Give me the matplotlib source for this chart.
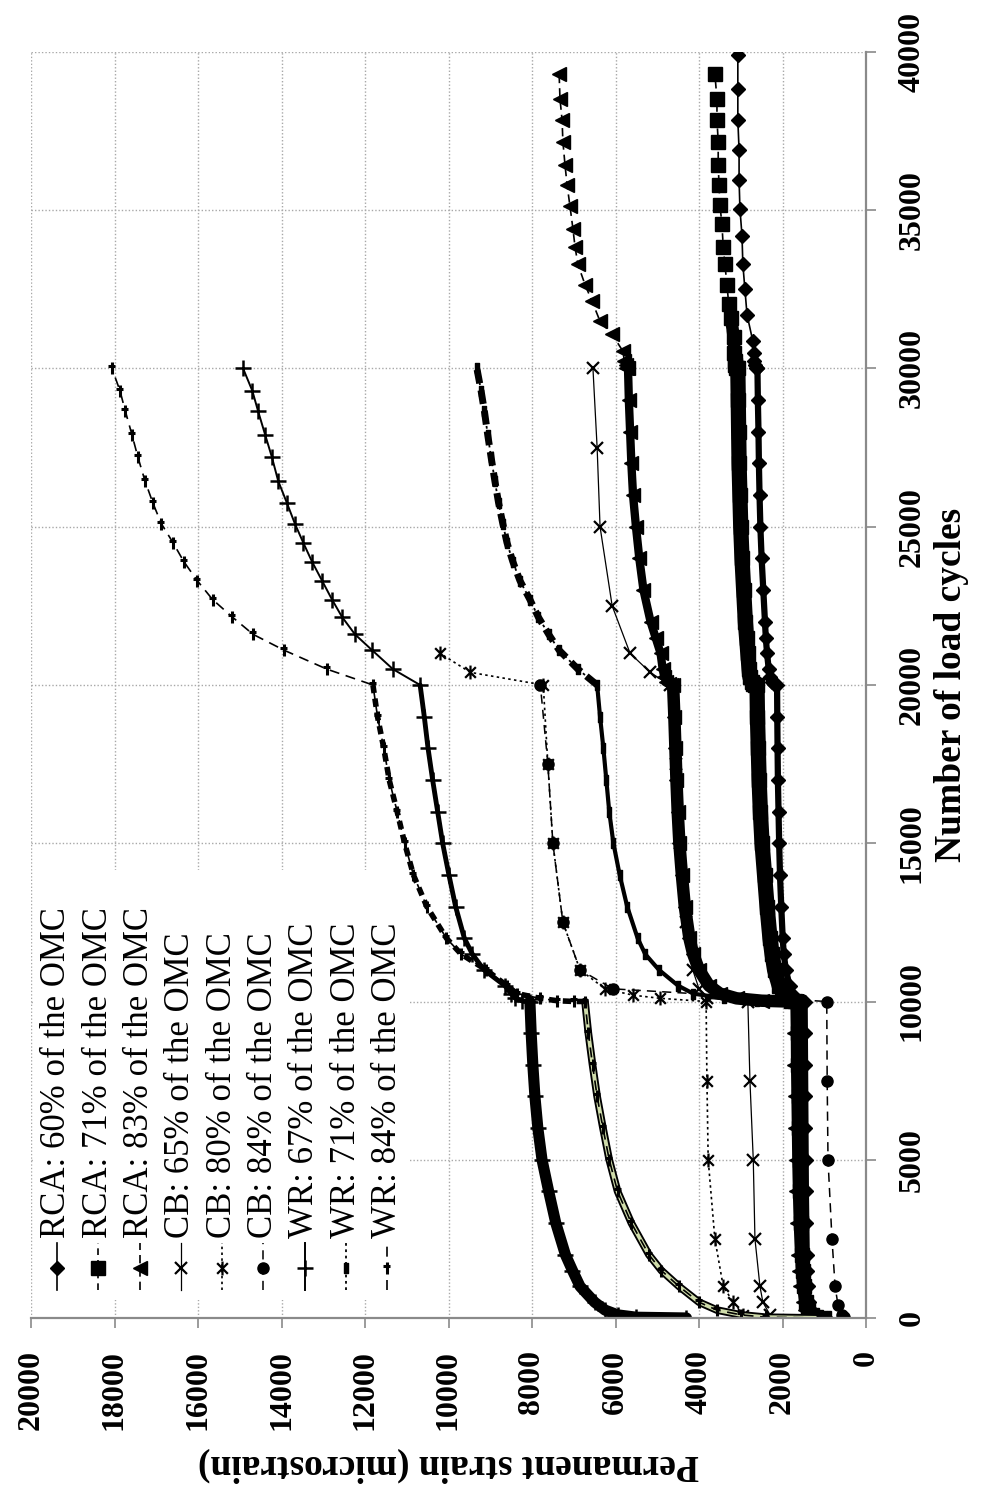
import matplotlib
matplotlib.use("Agg")
import matplotlib.pyplot as plt
from matplotlib.path import Path
from matplotlib.patches import Rectangle

plt.rcParams['font.family'] = ['Liberation Serif', 'DejaVu Serif']

# load-cycle grids for the stages (each stage is 10000 cycles)
STAGE1 = [1, 25, 100, 250, 500, 1000, 1500, 2000, 3000, 4000, 5000, 6000, 7000, 8000, 9000, 10000]
STAGE2 = [10001, 10025, 10100, 10250, 10500, 11000, 11500, 12000, 13000, 14000, 15000, 16000, 17000, 18000, 19000, 20000]
STAGE3 = [20001, 20025, 20100, 20250, 20500, 21000, 21500, 22000, 23000, 24000, 25000, 26000, 27000, 28000, 29000, 30000]
WR_STAGE3 = [20500, 21100, 21600, 22150, 22700, 23300, 23900, 24500, 25100, 25750, 26450, 27200, 27900, 28650, 29300, 30000]
RCA60_S4 = [30001, 30025, 30100, 30250, 30500, 30860, 31700, 32500, 33300, 34200, 35050, 35970, 36900, 37860, 38840, 39910]
RCA71_S4 = [30001, 30025, 30100, 30250, 30500, 31000, 31580, 32050, 32650, 33290, 33850, 34550, 35180, 35810, 36440,
            37170, 37860, 38520, 39310]
RCA83_S4 = [30001, 30025, 30100, 30250, 30540, 31080, 31490, 32120, 32650, 33290, 33850, 34420, 35120, 35810, 36440,
            37170, 37860, 38520, 39310]
CB_S1 = [100, 500, 1000, 2500, 5000, 7500, 10000]

# permanent strain (microstrain)
rca60_cyc = STAGE1 + STAGE2 + STAGE3 + RCA60_S4
rca60 = ([950, 1150, 1250, 1320, 1360, 1390, 1410, 1420, 1430, 1440, 1445, 1450, 1455, 1460, 1465, 1470]
         + [1500, 1600, 1700, 1770, 1830, 1920, 1970, 1995, 2030, 2060, 2080, 2095, 2110, 2118, 2125, 2130]
         + [2160, 2210, 2260, 2300, 2330, 2370, 2400, 2420, 2460, 2500, 2530, 2550, 2565, 2575, 2590, 2600]
         + [2620, 2640, 2660, 2680, 2690, 2710, 2850, 2900, 2950, 2970, 3020, 3040, 3040, 3070, 3070, 3070])

rca71_cyc = STAGE1 + STAGE2 + STAGE3 + RCA71_S4
rca71 = ([1000, 1200, 1300, 1380, 1430, 1480, 1510, 1530, 1560, 1580, 1590, 1600, 1610, 1620, 1625, 1630]
         + [1700, 1800, 1900, 1990, 2080, 2190, 2250, 2300, 2370, 2430, 2490, 2530, 2560, 2580, 2600, 2610]
         + [2650, 2700, 2740, 2780, 2800, 2830, 2860, 2890, 2930, 2970, 3000, 3020, 3040, 3050, 3060, 3070]
         + [3090, 3110, 3130, 3140, 3150, 3170, 3230, 3290, 3330, 3380, 3420, 3450, 3500, 3520, 3540, 3540,
            3570, 3570, 3620])

rca83_cyc = STAGE1 + STAGE2 + STAGE3 + RCA83_S4
rca83 = ([1100, 1300, 1400, 1470, 1520, 1570, 1600, 1620, 1650, 1670, 1685, 1695, 1705, 1715, 1720, 1730]
         + [1900, 2500, 3100, 3500, 3760, 4000, 4140, 4230, 4340, 4410, 4470, 4510, 4540, 4565, 4590, 4620]
         + [4660, 4720, 4780, 4830, 4870, 4920, 5040, 5160, 5330, 5430, 5510, 5580, 5620, 5650, 5680, 5700]
         + [5720, 5740, 5760, 5790, 5820, 6080, 6370, 6560, 6730, 6900, 6970, 7020, 7090, 7160, 7210, 7260,
            7280, 7330, 7350])

cb65_cyc = CB_S1 + [10100, 10400, 11000, 12500, 15000, 17500, 20000] + [20400, 21000, 22500, 25000, 27500, 30000]
cb65 = [2300, 2470, 2540, 2660, 2700, 2780, 2830] + [3800, 4000, 4150, 4300, 4450, 4550, 4700] \
       + [5170, 5650, 6080, 6370, 6440, 6540]

cb80_cyc = CB_S1 + [10100, 10200, 10400, 11000, 12500, 15000, 17500, 20000] + [20400, 21000]
cb80 = [2950, 3180, 3420, 3620, 3780, 3810, 3830] + [4930, 5580, 6250, 6850, 7260, 7500, 7620, 7730] + [9480, 10200]

cb84_cyc = [25, 100, 400, 1000, 2500, 5000, 7500, 10000] + [10400, 11000, 12500, 15000, 17500, 20000]
cb84 = [520, 575, 670, 740, 815, 910, 930, 940] + [6060, 6850, 7260, 7500, 7620, 7800]

wr67_cyc = STAGE1 + STAGE2 + WR_STAGE3
wr67 = ([4300, 5500, 5950, 6250, 6500, 6850, 7030, 7200, 7430, 7600, 7760, 7860, 7930, 7980, 8020, 8050]
        + [8100, 8250, 8400, 8500, 8650, 9150, 9430, 9620, 9830, 9990, 10140, 10260, 10380, 10490, 10580, 10680]
        + [11330, 11830, 12240, 12550, 12790, 13030, 13270, 13480, 13680, 13870, 14080, 14230, 14390, 14560,
           14700, 14920])

wr71_cyc = STAGE1 + STAGE2 + WR_STAGE3
wr71 = ([900, 1150, 1250, 1320, 1380, 1430, 1460, 1480, 1510, 1530, 1550, 1560, 1570, 1580, 1590, 1600]
        + [1800, 2600, 3400, 4140, 4500, 4960, 5290, 5470, 5720, 5900, 6050, 6150, 6220, 6290, 6370, 6440]
        + [6900, 7350, 7600, 7850, 8050, 8290, 8460, 8600, 8700, 8800, 8890, 8980, 9060, 9140, 9220, 9320])

wr84_cyc = STAGE1 + STAGE2 + WR_STAGE3
wr84 = ([1100, 2400, 3000, 3570, 4000, 4480, 4900, 5200, 5620, 5950, 6150, 6300, 6440, 6550, 6650, 6730]
        + [7000, 7400, 7810, 8360, 8600, 9100, 9700, 10050, 10520, 10840, 11050, 11230, 11420, 11550, 11700, 11810]
        + [12910, 13940, 14680, 15180, 15650, 16020, 16340, 16600, 16880, 17080, 17270, 17440, 17580, 17740,
           17870, 18060])

labels = ['RCA: 60% of the OMC', 'RCA: 71% of the OMC', 'RCA: 83% of the OMC',
          'CB: 65% of the OMC', 'CB: 80% of the OMC', 'CB: 84% of the OMC',
          'WR: 67% of the OMC', 'WR: 71% of the OMC', 'WR: 84% of the OMC']
strain_ticks = list(range(0, 20001, 2000))
cycle_ticks = list(range(0, 40001, 5000))

# custom markers (chart is drawn turned a quarter turn, like the scan)
star = Path([(-1, -1), (1, 1), (-1, 1), (1, -1), (0, -1.3), (0, 1.3)],
            [Path.MOVETO, Path.LINETO] * 3)
bar = Path([(-0.35, -1), (0.35, -1), (0.35, 1), (-0.35, 1), (-0.35, -1)],
           [Path.MOVETO] + [Path.LINETO] * 3 + [Path.CLOSEPOLY])
tick_t = Path([(0, -1), (0, 1), (-0.7, 0.35), (0.4, 0.35)],
              [Path.MOVETO, Path.LINETO, Path.MOVETO, Path.LINETO])

styles = [
    dict(marker='D', ms=7, ls='-', lw=1.2),
    dict(marker='s', ms=10, ls=(0, (4, 3)), lw=1.2),
    dict(marker='<', ms=10, ls=(0, (5, 3)), lw=1.2),
    dict(marker='x', ms=9, mew=1.6, ls='-', lw=0.9),
    dict(marker=star, ms=10, mew=1.6, mfc='none', ls=(0, (1.5, 2)), lw=1.2),
    dict(marker='o', ms=8, ls=(0, (6, 4)), lw=1.1),
    dict(marker='+', ms=11, mew=1.8, ls='-', lw=1.4),
    dict(marker=bar, ms=7, ls=(0, (1.5, 2)), lw=1.3),
    dict(marker=tick_t, ms=9, mew=2.2, mfc='none', ls=(0, (6, 4)), lw=1.2),
]
series = [(rca60, rca60_cyc), (rca71, rca71_cyc), (rca83, rca83_cyc),
          (cb65, cb65_cyc), (cb80, cb80_cyc), (cb84, cb84_cyc),
          (wr67, wr67_cyc), (wr71, wr71_cyc), (wr84, wr84_cyc)]
# where the recorded points are so close that the markers merge into a band:
# (first index, stop index, band width, band style, band colour)
bands = {
    0: [(0, 48, 4.5, '-', 'black')],
    1: [(0, 16, 5, '-', 'black'), (15, 48, 11, '-', 'black'), (47, 55, 9, '-', 'black')],
    2: [(0, 16, 5, '-', 'black'), (15, 32, 9, '-', 'black'), (31, 48, 6, '-', 'black')],
    6: [(0, 16, 8, '-', 'black'), (15, 32, 3.5, '-', 'black')],
    7: [(0, 16, 5, '-', 'black'), (15, 32, 3, '-', 'black'), (31, 48, 5, (0, (2, 1)), 'black')],
    8: [(0, 16, 5.5, '-', 'black'), (0, 16, 2.8, '-', '#cfdcaa'), (15, 32, 4, (0, (1.5, 1)), 'black')],
}
draw_order = [5, 4, 3, 0, 1, 2, 7, 6, 8]

fig = plt.figure(figsize=(9.81, 14.91), dpi=100)
ax = fig.add_axes([31 / 981, 173 / 1491, 835 / 981, 1266 / 1491])

for i in draw_order:
    strain, cyc = series[i]
    z = 2 + i * 0.01
    for i0, i1, w, bls, bcol in bands.get(i, []):
        ax.plot(strain[i0:i1], cyc[i0:i1], color=bcol, lw=w, ls=bls, zorder=z,
                solid_capstyle='round', solid_joinstyle='round')
    ax.plot(strain, cyc, color='black', mec='black', zorder=z + 0.001, **styles[i])

ax.set_xlim(20000, 0)
ax.set_ylim(0, 40000)
ax.set_xticks(strain_ticks)
ax.set_xticklabels([str(v) for v in strain_ticks], rotation=90, fontsize=23, fontweight='bold')
ax.yaxis.tick_right()
ax.set_yticks(cycle_ticks)
ax.set_yticklabels([str(v) for v in cycle_ticks], rotation=90, fontsize=23, fontweight='bold', va='center')
ax.tick_params(direction='out', length=7, width=1.2, color='#8a8a8a', pad=16)

ax.set_axisbelow(True)
ax.grid(True, color='#a8a8a8', linestyle=(0, (1, 1.5)), linewidth=1.0)
for side in ['top', 'left']:
    ax.spines[side].set_visible(False)
for side in ['right', 'bottom']:
    ax.spines[side].set_color('#8a8a8a')
    ax.spines[side].set_linewidth(1.6)

ax.set_xlabel('Permanent strain (microstrain)', fontsize=27, fontweight='bold', rotation=180)
ax.xaxis.label.set(va='center', ha='center')
ax.xaxis.set_label_coords(0.5, -0.116)
ax.yaxis.set_label_position('right')
ax.set_ylabel('Number of load cycles', fontsize=27, fontweight='bold', rotation=90)
ax.yaxis.label.set(rotation_mode='default', va='center', ha='center')
ax.yaxis.set_label_coords(1.102, 0.5)

# legend, laid out as columns like the turned original
ax.add_patch(Rectangle((0.003, 0.014), 0.451, 0.34, transform=ax.transAxes,
                       facecolor='white', edgecolor='none', zorder=1.5))
for i, lab in enumerate(labels):
    fx = 0.0311 + 0.04946 * i
    st = dict(styles[i])
    mk = {k: st.pop(k) for k in ['marker', 'ms', 'mew', 'mfc'] if k in st}
    ax.plot([fx, fx], [0.0221, 0.0592], transform=ax.transAxes, color='black', zorder=3,
            ls=st['ls'], lw=st['lw'])
    ax.plot([fx], [0.0395], transform=ax.transAxes, color='black', mec='black', ls='none', zorder=3, **mk)
    ax.text(fx, 0.0632, lab, transform=ax.transAxes, rotation=90, ha='center', va='bottom',
            fontsize=25, zorder=3)

fig.savefig('out.png', dpi=100)
